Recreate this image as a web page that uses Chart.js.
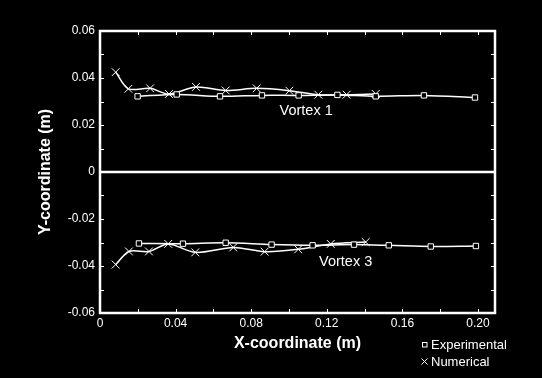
<!DOCTYPE html>
<html>
<head>
<meta charset="utf-8">
<script src="https://cdn.jsdelivr.net/npm/chart.js@4"></script>
<style>
  html, body { margin: 0; padding: 0; background: #000; }
  #wrap { width: 542px; height: 378px; }
</style>
</head>
<body>
<div id="wrap"><canvas id="vortex-chart"></canvas></div>
<script>
// vortex 1 (upper) and vortex 3 (lower) core positions
const v1ExpX = [0.0199, 0.0406, 0.0635, 0.0857, 0.1051, 0.1256, 0.1459, 0.1714, 0.1984];
const v1ExpY = [0.0322, 0.0330, 0.0322, 0.0326, 0.0326, 0.0328, 0.0322, 0.0326, 0.0317];
const v1NumX = [0.0083, 0.0150, 0.0265, 0.0365, 0.0508, 0.0665, 0.0829, 0.1002, 0.1155, 0.1305, 0.1459];
const v1NumY = [0.0425, 0.0354, 0.0356, 0.0332, 0.0362, 0.0347, 0.0356, 0.0346, 0.0329, 0.0329, 0.0332];

const v3ExpX = [0.0206, 0.0439, 0.0665, 0.0908, 0.1125, 0.1344, 0.1528, 0.1750, 0.1989];
const v3ExpY = [-0.0304, -0.0305, -0.0301, -0.0309, -0.0312, -0.0309, -0.0312, -0.0317, -0.0315];
const v3NumX = [0.0083, 0.0153, 0.0259, 0.0361, 0.0504, 0.0705, 0.0871, 0.1049, 0.1221, 0.1406];
const v3NumY = [-0.0394, -0.0338, -0.0338, -0.0306, -0.0342, -0.0321, -0.0339, -0.0329, -0.0306, -0.0298];

const xTicks = [0, 0.04, 0.08, 0.12, 0.16, 0.20];
const xTickLabels = ["0", "0.04", "0.08", "0.12", "0.16", "0.20"];
const yTicks = [-0.06, -0.04, -0.02, 0, 0.02, 0.04, 0.06];
const yTickLabels = ["-0.06", "-0.04", "-0.02", "0", "0.02", "0.04", "0.06"];

const vortexLabels = [
  { text: "Vortex 1", x: 0.095, y: 0.0261 },
  { text: "Vortex 3", x: 0.1159, y: -0.0382 },
];

const toPoints = (xs, ys) => xs.map((x, i) => ({ x, y: ys[i] }));

Chart.defaults.font.family = "Arial, 'Liberation Sans', sans-serif";
Chart.defaults.color = "#fff";

const expStyle = {
  borderColor: "#fff",
  backgroundColor: "#000",
  borderWidth: 1.5,
  pointStyle: "rect",
  pointRadius: 3.8,
  pointBorderWidth: 1,
  pointBackgroundColor: "#000",
  pointBorderColor: "#fff",
  tension: 0.3,
};
const numStyle = {
  borderColor: "#fff",
  backgroundColor: "#fff",
  borderWidth: 1.5,
  pointStyle: "crossRot",
  pointRadius: 5.5,
  pointBorderWidth: 1,
  pointBorderColor: "#fff",
  tension: 0.3,
};

// frame, zero line, inward ticks, annotations and legend
const framePlugin = {
  id: "frame",
  beforeDatasetsDraw(chart) {
    const { ctx, chartArea: a, scales: { y } } = chart;
    ctx.save();
    ctx.strokeStyle = "#fff";
    ctx.lineWidth = 2.5;
    const y0 = y.getPixelForValue(0);
    ctx.beginPath();
    ctx.moveTo(a.left, y0);
    ctx.lineTo(a.right, y0);
    ctx.stroke();
    ctx.restore();
  },
  afterDatasetsDraw(chart) {
    const { ctx, chartArea: a, scales: { x, y } } = chart;
    ctx.save();
    ctx.strokeStyle = "#fff";
    ctx.lineWidth = 1;
    ctx.beginPath();
    for (let i = 1; i < 12; i++) {
      const py = Math.round(y.getPixelForValue(-0.06 + i * 0.01)) + 0.5;
      ctx.moveTo(a.left, py); ctx.lineTo(a.left + 4, py);
      ctx.moveTo(a.right, py); ctx.lineTo(a.right - 4, py);
    }
    for (let i = 1; i <= 10; i++) {
      const px = Math.round(x.getPixelForValue(i * 0.02)) + 0.5;
      ctx.moveTo(px, a.bottom); ctx.lineTo(px, a.bottom - 4);
      ctx.moveTo(px, a.top); ctx.lineTo(px, a.top + 4);
    }
    ctx.stroke();

    ctx.lineWidth = 2.5;
    ctx.strokeRect(a.left, a.top, a.right - a.left, a.bottom - a.top);

    ctx.fillStyle = "#fff";
    ctx.font = "14.5px Arial, 'Liberation Sans', sans-serif";
    ctx.textAlign = "left";
    ctx.textBaseline = "middle";
    vortexLabels.forEach((l) => {
      ctx.fillText(l.text, x.getPixelForValue(l.x), y.getPixelForValue(l.y));
    });

    // legend
    const lx = 424.5;
    ctx.lineWidth = 1;
    ctx.strokeRect(422.5, 342.5, 4.5, 4.5);
    ctx.beginPath();
    ctx.moveTo(lx - 3, 358.5); ctx.lineTo(lx + 3, 364.5);
    ctx.moveTo(lx + 3, 358.5); ctx.lineTo(lx - 3, 364.5);
    ctx.stroke();
    ctx.font = "13px Arial, 'Liberation Sans', sans-serif";
    ctx.fillText("Experimental", 431, 345.5);
    ctx.fillText("Numerical", 431, 362);
    ctx.restore();
  },
};

const ctx = document.getElementById("vortex-chart").getContext("2d");
const chart = new Chart(ctx, {
  type: "line",
  data: {
    datasets: [
      { label: "Experimental", data: toPoints(v1ExpX, v1ExpY), ...expStyle },
      { label: "Numerical", data: toPoints(v1NumX, v1NumY), ...numStyle },
      { label: "Experimental", data: toPoints(v3ExpX, v3ExpY), ...expStyle },
      { label: "Numerical", data: toPoints(v3NumX, v3NumY), ...numStyle },
    ],
  },
  options: {
    responsive: true,
    maintainAspectRatio: false,
    animation: false,
    layout: { padding: { top: 31, right: 47, left: 0, bottom: 0 } },
    plugins: {
      legend: { display: false },
      tooltip: { enabled: false },
    },
    scales: {
      x: {
        type: "linear",
        min: 0,
        max: 0.209,
        grid: { display: false, drawTicks: false },
        border: { display: false },
        afterBuildTicks: (scale) => {
          scale.ticks = xTicks.map((v) => ({ value: v }));
        },
        afterFit: (scale) => { scale.height = 65; },
        ticks: {
          padding: 3,
          maxRotation: 0,
          autoSkip: false,
          font: { size: 12 },
          color: "#fff",
          callback: (v) => xTickLabels[xTicks.findIndex((t) => Math.abs(t - v) < 1e-9)],
        },
        title: {
          display: true,
          text: "X-coordinate (m)",
          color: "#fff",
          font: { size: 16, weight: "bold" },
          padding: { top: 0, bottom: 25 },
        },
      },
      y: {
        type: "linear",
        min: -0.06,
        max: 0.06,
        grid: { display: false, drawTicks: false },
        border: { display: false },
        afterBuildTicks: (scale) => {
          scale.ticks = yTicks.map((v) => ({ value: v }));
        },
        afterFit: (scale) => { scale.width = 100; },
        ticks: {
          padding: 5,
          autoSkip: false,
          font: { size: 12 },
          color: "#fff",
          callback: (v) => yTickLabels[yTicks.findIndex((t) => Math.abs(t - v) < 1e-9)],
        },
        title: {
          display: true,
          text: "Y-coordinate (m)",
          color: "#fff",
          font: { size: 16, weight: "bold" },
          padding: { top: 36, bottom: 0 },
        },
      },
    },
  },
  plugins: [framePlugin],
});
</script>
</body>
</html>
